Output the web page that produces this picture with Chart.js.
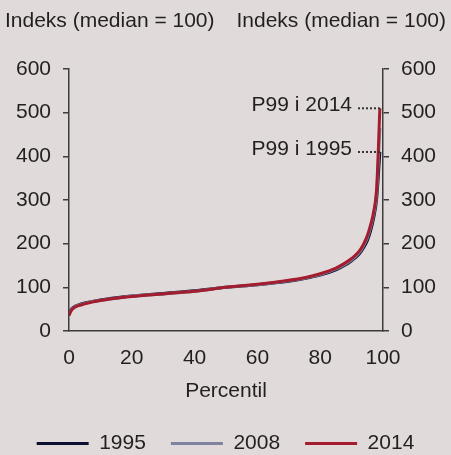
<!DOCTYPE html>
<html>
<head>
<meta charset="utf-8">
<script src="https://cdn.jsdelivr.net/npm/chart.js@4"></script>
<style>
  html, body { margin: 0; padding: 0; background: #e0dbda; }
  #wrap { width: 451px; height: 455px; }
</style>
</head>
<body>
<div id="wrap"><canvas id="chart" width="451" height="455"></canvas></div>
<script>
const percentiles = [0, 0.5, 1, 2, 3, 5, 7, 10, 15, 20, 30, 40, 50, 60, 70, 75, 80, 85, 88, 90, 92, 93, 94, 95, 96, 97, 98, 99];
const values1995 = [38, 47, 52, 57, 60, 64, 67, 71, 76, 80, 86, 92, 100, 106, 114, 120, 128, 140, 151, 161, 173, 182, 193, 207, 228, 258, 305, 410];
const values2008 = [37, 46, 51, 56, 59, 63, 67, 70, 75, 80, 85, 91, 100, 106, 115, 121, 129, 142, 153, 163, 176, 185, 198, 213, 236, 266, 318, 465];
const values2014 = [35, 44, 49, 55, 58, 62, 66, 70, 75, 79, 85, 91, 100, 107, 116, 122, 131, 144, 156, 166, 179, 189, 202, 218, 242, 272, 330, 510];
const seriesLabels = ["1995", "2008", "2014"];
const yTicks = [0, 100, 200, 300, 400, 500, 600];
const xTicks = [0, 20, 40, 60, 80, 100];
const axisTitle = "Indeks (median = 100)";

const textColor = "#231f20";
const axisColor = "#3c3c3c";
const fontFamily = "'Liberation Sans', Arial, sans-serif";
const fontSize = 21;

const toPoints = (vals) => percentiles.map((p, i) => ({ x: p, y: vals[i] }));

const background = {
  id: "background",
  beforeDraw(chart) {
    const ctx = chart.ctx;
    ctx.save();
    ctx.fillStyle = "#e0dbda";
    ctx.fillRect(0, 0, chart.width, chart.height);
    ctx.restore();
  },
};

const annotations = {
  id: "annotations",
  afterDraw(chart) {
    const ctx = chart.ctx;
    const xs = chart.scales.x;
    const ys = chart.scales.y;
    ctx.save();
    ctx.font = fontSize + "px " + fontFamily;
    ctx.fillStyle = textColor;
    ctx.textBaseline = "middle";

    // titles above both axes
    ctx.textAlign = "left";
    ctx.fillText(axisTitle, 5, 21);
    ctx.textAlign = "right";
    ctx.fillText(axisTitle, 446, 21);

    // P99 labels with dotted leaders
    const last = percentiles.length - 1;
    const marks = [
      { label: "P99 i 2014", value: values2014[last] },
      { label: "P99 i 1995", value: values1995[last] },
    ];
    const xEnd = xs.getPixelForValue(percentiles[last]);
    marks.forEach((m) => {
      const y = ys.getPixelForValue(m.value);
      ctx.textAlign = "right";
      ctx.fillText(m.label, 352, y - 3);
      ctx.strokeStyle = "#333";
      ctx.lineWidth = 2;
      ctx.setLineDash([2, 2]);
      ctx.beginPath();
      ctx.moveTo(358, y);
      ctx.lineTo(xEnd, y);
      ctx.stroke();
    });
    ctx.restore();
  },
};

const yAxis = (position, width) => ({
  type: "linear",
  position: position,
  display: true,
  min: 0,
  max: 600,
  afterBuildTicks: (axis) => {
    axis.ticks = yTicks.map((v) => ({ value: v }));
  },
  afterFit: (axis) => {
    axis.width = width;
  },
  ticks: {
    color: textColor,
    padding: 12,
    font: { size: fontSize, family: fontFamily },
  },
  grid: {
    drawOnChartArea: false,
    drawTicks: true,
    tickLength: 6,
    color: axisColor,
    lineWidth: 1.5,
  },
  border: { color: axisColor, width: 1.5 },
});

new Chart(document.getElementById("chart").getContext("2d"), {
  type: "line",
  data: {
    datasets: [
      {
        label: seriesLabels[0],
        data: toPoints(values1995),
        borderColor: "#0c1030",
        backgroundColor: "#0c1030",
        borderWidth: 3,
        order: 3,
      },
      {
        label: seriesLabels[1],
        data: toPoints(values2008),
        borderColor: "#7f82a0",
        backgroundColor: "#7f82a0",
        borderWidth: 3,
        order: 2,
      },
      {
        label: seriesLabels[2],
        data: toPoints(values2014),
        borderColor: "#a41d2e",
        backgroundColor: "#a41d2e",
        borderWidth: 3,
        order: 1,
      },
    ],
  },
  options: {
    responsive: false,
    animation: false,
    layout: { padding: { top: 69, bottom: -9, left: 0, right: 0 } },
    elements: {
      point: { radius: 0 },
      line: { cubicInterpolationMode: "monotone" },
    },
    scales: {
      x: {
        type: "linear",
        min: 0,
        max: 100,
        afterBuildTicks: (axis) => {
          axis.ticks = xTicks.map((v) => ({ value: v }));
        },
        afterFit: (axis) => {
          axis.height = 77;
        },
        ticks: {
          color: textColor,
          padding: 15,
          maxRotation: 0,
          font: { size: fontSize, family: fontFamily },
        },
        grid: { display: false, drawTicks: false },
        border: { color: axisColor, width: 1.5 },
        title: {
          display: true,
          text: "Percentil",
          color: textColor,
          padding: { top: 5 },
          font: { size: fontSize, family: fontFamily },
        },
      },
      y: yAxis("left", 69),
      y2: yAxis("right", 68),
    },
    plugins: {
      legend: {
        position: "bottom",
        labels: {
          usePointStyle: true,
          pointStyle: "line",
          pointStyleWidth: 52,
          boxHeight: 3,
          padding: 25,
          color: textColor,
          font: { size: fontSize, family: fontFamily },
          sort: (a, b) => a.datasetIndex - b.datasetIndex,
        },
      },
      tooltip: { enabled: false },
    },
  },
  plugins: [background, annotations],
});
</script>
</body>
</html>
